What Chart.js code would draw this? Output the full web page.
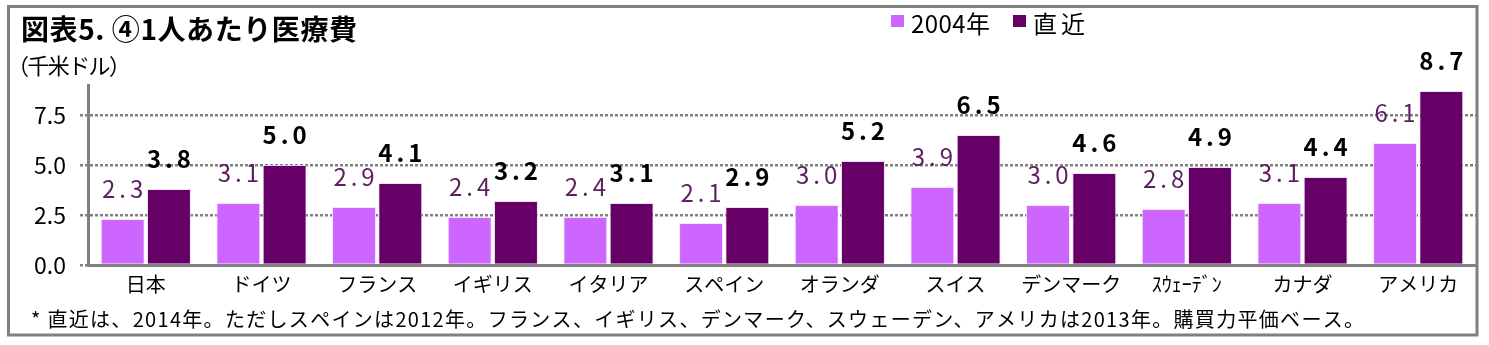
<!DOCTYPE html>
<html lang="ja">
<head>
<meta charset="utf-8">
<title>図表5. ④1人あたり医療費</title>
<script src="https://cdn.jsdelivr.net/npm/chart.js@4.4.1/dist/chart.umd.min.js"></script>
<style>
  html, body { margin: 0; padding: 0; background: #ffffff; }
  canvas { display: block; }
</style>
</head>
<body>
<canvas id="chart" width="1489" height="345" style="width:1489px;height:345px"></canvas>
<script>
// 1人あたり医療費（千米ドル、購買力平価ベース）
const countries = ['日本', 'ドイツ', 'フランス', 'イギリス', 'イタリア', 'スペイン', 'オランダ', 'スイス', 'デンマーク', 'ｽｳｪｰﾃﾞﾝ', 'カナダ', 'アメリカ'];
const cost2004 = [2.3, 3.1, 2.9, 2.4, 2.4, 2.1, 3.0, 3.9, 3.0, 2.8, 3.1, 6.1];
const costLatest = [3.8, 5.0, 4.1, 3.2, 3.1, 2.9, 5.2, 6.5, 4.6, 4.9, 4.4, 8.7];
const yTickValues = [0, 2.5, 5.0, 7.5];
const seriesNames = ['2004年', '直近'];

const TITLE = '図表5. ④1人あたり医療費';
const UNIT = '（千米ドル）';
const NOTE = '* 直近は、2014年。ただしスペインは2012年。フランス、イギリス、デンマーク、スウェーデン、アメリカは2013年。購買力平価ベース。';

const JP = '"Noto Sans CJK JP", "Noto Sans", sans-serif';
const LIGHT = '#CC66FF';
const DARK = '#660066';
const GRID = '#808080';

// draw text stretched to a given width by adjusting letter spacing
function drawSpaced(ctx, text, x, y, width) {
  ctx.save();
  ctx.letterSpacing = '0px';
  const w = ctx.measureText(text).width;
  const n = [...text].length;
  const ls = n > 1 ? (width - w) / (n - 1) : 0;
  ctx.letterSpacing = ls + 'px';
  ctx.textAlign = 'left';
  ctx.fillText(text, x, y);
  ctx.restore();
}

const framePlugin = {
  id: 'frame',
  beforeDraw(chart) {
    const { ctx, width, height } = chart;
    ctx.save();
    ctx.fillStyle = '#ffffff';
    ctx.fillRect(0, 0, width, height);
    ctx.restore();
  },
  afterDraw(chart) {
    const { ctx } = chart;
    ctx.save();
    // outer frame
    ctx.strokeStyle = GRID;
    ctx.lineWidth = 3;
    ctx.strokeRect(8.5, 6.5, 1468.5, 328.5);

    ctx.fillStyle = '#000000';
    ctx.textBaseline = 'alphabetic';
    ctx.textAlign = 'left';
    // title
    ctx.font = 'bold 28px ' + JP;
    drawSpaced(ctx, TITLE, 21, 40, 336);
    // unit
    ctx.font = '22px ' + JP;
    drawSpaced(ctx, UNIT, 7, 74, 124);

    // legend
    const ds = chart.data.datasets;
    const items = [
      { box: 891, text: 911, w: 79 },
      { box: 1013, text: 1033, w: 52 }
    ];
    ctx.font = '24px ' + JP;
    items.forEach((it, i) => {
      ctx.fillStyle = ds[i].backgroundColor;
      ctx.fillRect(it.box, 15, 13, 12);
      ctx.fillStyle = '#000000';
      drawSpaced(ctx, ds[i].label, it.text, 33, it.w);
    });

    // footnote
    ctx.font = '20px ' + JP;
    drawSpaced(ctx, NOTE, 31, 327, 1333);
    ctx.restore();
  }
};

const valueLabelPlugin = {
  id: 'valueLabels',
  afterDatasetsDraw(chart) {
    const { ctx } = chart;
    ctx.save();
    ctx.textAlign = 'center';
    ctx.textBaseline = 'alphabetic';
    const ls = 4;
    ctx.letterSpacing = ls + 'px';
    chart.data.datasets.forEach((ds, di) => {
      const meta = chart.getDatasetMeta(di);
      ctx.font = (di === 1 ? 'bold ' : '') + '24px ' + JP;
      ctx.fillStyle = di === 1 ? '#000000' : '#5E1E60';
      meta.data.forEach((bar, i) => {
        const v = ds.data[i];
        ctx.fillText(v.toFixed(1), bar.x + ls / 2, bar.y - 21);
      });
    });
    ctx.restore();
  }
};

new Chart(document.getElementById('chart'), {
  type: 'bar',
  data: {
    labels: countries,
    datasets: [
      {
        label: seriesNames[0],
        data: cost2004,
        backgroundColor: LIGHT,
        borderColor: 'rgba(245,225,255,0.9)',
        borderWidth: 1,
        barPercentage: 0.95,
        categoryPercentage: 0.8
      },
      {
        label: seriesNames[1],
        data: costLatest,
        backgroundColor: DARK,
        borderColor: 'rgba(235,215,240,0.8)',
        borderWidth: 1,
        barPercentage: 0.95,
        categoryPercentage: 0.8
      }
    ]
  },
  options: {
    responsive: false,
    animation: false,
    devicePixelRatio: 1,
    layout: { padding: { left: 0, right: 13, top: 85, bottom: 40 } },
    plugins: {
      legend: { display: false },
      title: { display: false },
      tooltip: { enabled: false }
    },
    scales: {
      x: {
        grid: { display: true, drawOnChartArea: false, drawTicks: false },
        border: { display: true, color: GRID, width: 3 },
        ticks: {
          color: '#000000',
          font: { family: JP, size: 20 },
          padding: 7,
          maxRotation: 0,
          autoSkip: false
        },
        afterFit(scale) { scale.height = 40; }
      },
      y: {
        min: 0,
        max: 9,
        afterBuildTicks(scale) {
          scale.ticks = yTickValues.map(v => ({ value: v }));
        },
        grid: {
          color: ctx => (ctx.tick && ctx.tick.value === 0) ? 'rgba(0,0,0,0)' : GRID,
          tickColor: GRID,
          lineWidth: 2.5,
          tickWidth: 2.5,
          tickLength: 8,
          tickBorderDash: [3, 2]
        },
        border: { display: true, color: GRID, width: 3, dash: [3, 2] },
        ticks: {
          color: '#000000',
          font: { family: JP, size: 23 },
          padding: 14,
          callback: v => Number(v).toFixed(1)
        },
        afterFit(scale) { scale.width = 88; }
      }
    }
  },
  plugins: [framePlugin, valueLabelPlugin]
});
</script>
</body>
</html>
